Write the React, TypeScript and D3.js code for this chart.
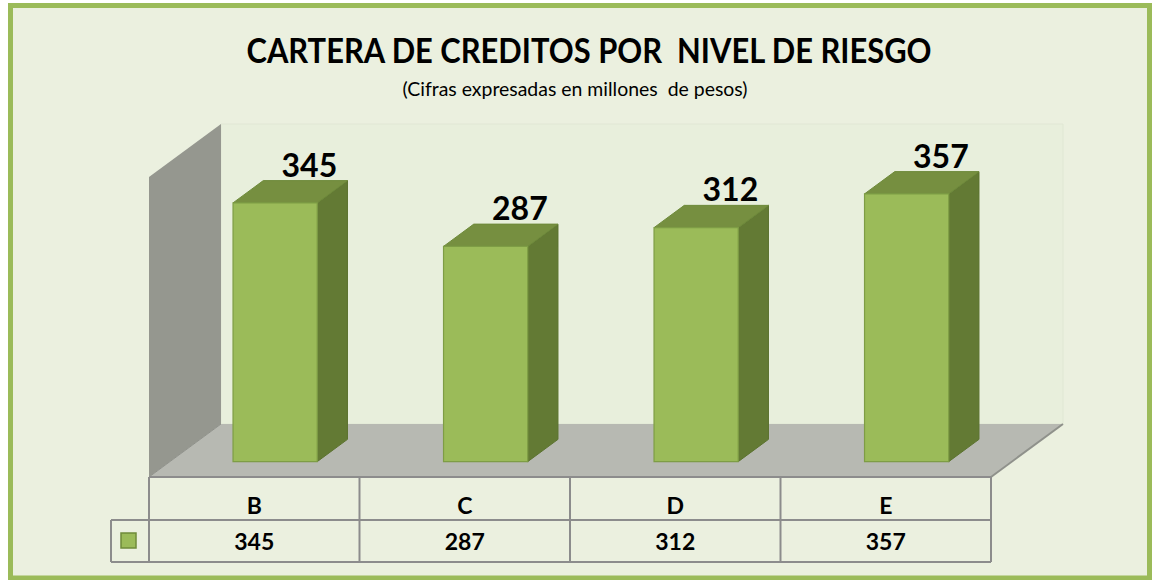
import React from 'react';
import * as d3 from 'd3';

const categories: string[] = ['B', 'C', 'D', 'E'];
const values: number[] = [345, 287, 312, 357];
const titleText = 'CARTERA DE CREDITOS POR  NIVEL DE RIESGO';
const subtitleText = '(Cifras expresadas en millones  de pesos)';
const yDomainMax = 400;

const W = 1152;
const H = 580;
const FLOOR_Y = 477;
const DX = 72;
const DY = 53;
const F0 = 0.29;
const F1 = 0.71;
const FONT = 'Lato, "Open Sans", "Noto Sans", sans-serif';

export default function App() {
  const x = d3.scaleBand<string>().domain(categories).range([149, 991]).paddingInner(0).paddingOuter(0);
  const y = d3.scaleLinear().domain([0, yDomainMax]).range([0, 300]);
  const P = (px: number, v: number, d: number): [number, number] => [px + d * DX, FLOOR_Y - y(v) - d * DY];
  const pts = (arr: [number, number][]) => arr.map((p) => p.join(',')).join(' ');
  const xL = x.range()[0];
  const xR = x.range()[1];
  const bw = x.bandwidth() * 0.4;

  const rowTop = FLOOR_Y;
  const rowMid = 520;
  const rowBot = 562;
  const legendLeft = 111;

  return (
    <svg width={W} height={H} style={{ position: 'absolute', left: 0, top: 0, background: '#fff' }}>
      <rect x={10.5} y={5.5} width={1139} height={572.5} fill="#EBF0DF" stroke="#9BBB59" strokeWidth={5} />
      <text x={589} y={63} textAnchor="middle" fontFamily={FONT} fontWeight={700} fontSize={34}
        textLength={685} lengthAdjust="spacingAndGlyphs" style={{ whiteSpace: 'pre' }}>{titleText}</text>
      <text x={575} y={96} textAnchor="middle" fontFamily={FONT} fontSize={20}
        textLength={345} lengthAdjust="spacingAndGlyphs" style={{ whiteSpace: 'pre' }}>{subtitleText}</text>

      {/* back wall */}
      <polygon points={pts([P(xL, 0, 1), P(xR, 0, 1), P(xR, yDomainMax, 1), P(xL, yDomainMax, 1)])}
        fill="#E8EFDC" stroke="#E0E7D4" strokeWidth={1} />
      {/* left wall */}
      <polygon points={pts([P(xL, 0, 0), P(xL, yDomainMax, 0), P(xL, yDomainMax, 1), P(xL, 0, 1)])}
        fill="#95978F" />
      {/* floor */}
      <polygon points={pts([P(xL, 0, 0), P(xR, 0, 0), P(xR, 0, 1), P(xL, 0, 1)])} fill="#B7B9B2" />
      <line x1={P(xL, 0, 0)[0]} y1={P(xL, 0, 0)[1]} x2={P(xL, 0, 1)[0]} y2={P(xL, 0, 1)[1]} stroke="#8F918B" strokeWidth={1} />
      <line x1={P(xR, 0, 0)[0]} y1={P(xR, 0, 0)[1]} x2={P(xR, 0, 1)[0]} y2={P(xR, 0, 1)[1]} stroke="#8F918B" strokeWidth={2} />

      {/* bars */}
      {categories.map((c, i) => {
        const v = values[i];
        const cx = (x(c) as number) + x.bandwidth() / 2;
        const x0 = cx - bw / 2;
        const x1 = cx + bw / 2;
        const backTop = P(x0, v, F1);
        const labelX = (P(x0, v, F1)[0] + P(x1, v, F1)[0]) / 2 + 4;
        return (
          <g key={c}>
            <polygon points={pts([P(x1, 0, F0), P(x1, 0, F1), P(x1, v, F1), P(x1, v, F0)])}
              fill="#637A34" stroke="#5C7330" strokeWidth={1} />
            <polygon points={pts([P(x0, v, F0), P(x1, v, F0), P(x1, v, F1), P(x0, v, F1)])}
              fill="#768F40" stroke="#6E8A3A" strokeWidth={1} />
            <polygon points={pts([P(x0, 0, F0), P(x1, 0, F0), P(x1, v, F0), P(x0, v, F0)])}
              fill="#9BBB59" stroke="#7E9D45" strokeWidth={1.2} />
            <text x={labelX} y={backTop[1] - 4} textAnchor="middle" fontFamily={FONT} fontWeight={700}
              fontSize={32} fill="#000">{v}</text>
          </g>
        );
      })}

      {/* data table */}
      <g stroke="#8C8C8C" strokeWidth={2} fill="none">
        <line x1={xL} y1={rowTop} x2={xR} y2={rowTop} />
        <line x1={legendLeft} y1={rowMid} x2={xR} y2={rowMid} />
        <line x1={legendLeft} y1={rowBot} x2={xR} y2={rowBot} />
        <line x1={legendLeft} y1={rowMid} x2={legendLeft} y2={rowBot} />
        {categories.map((c) => (
          <line key={c} x1={x(c) as number} y1={rowTop} x2={x(c) as number} y2={rowBot} />
        ))}
        <line x1={xR} y1={rowTop} x2={xR} y2={rowBot} />
      </g>
      <rect x={121} y={533} width={15} height={15} fill="#9BBB59" stroke="#6F8B3A" strokeWidth={1.5} />
      {categories.map((c, i) => {
        const cx = (x(c) as number) + x.bandwidth() / 2;
        return (
          <g key={c} fontFamily={FONT} fontWeight={700} fontSize={23} textAnchor="middle">
            <text x={cx} y={514}>{c}</text>
            <text x={cx} y={550}>{values[i]}</text>
          </g>
        );
      })}
    </svg>
  );
}
